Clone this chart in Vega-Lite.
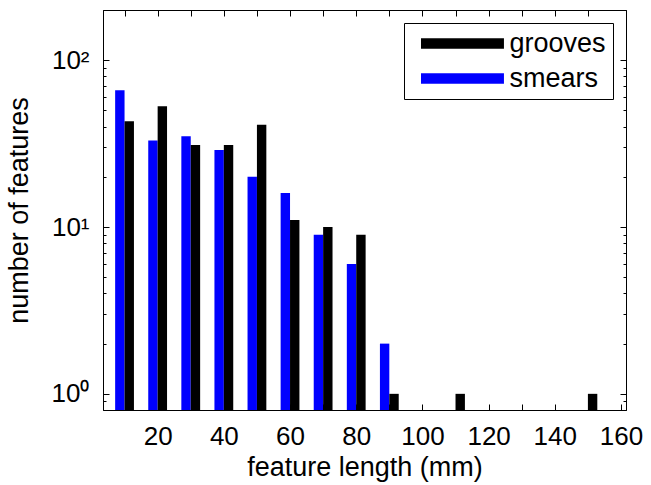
{
  "$schema": "https://vega.github.io/schema/vega-lite/v6.json",
  "width": 523,
  "height": 400,
  "autosize": {"type": "none"},
  "padding": {"left": 103, "top": 10, "right": 25, "bottom": 75},
  "background": "white",
  "config": {
    "view": {"stroke": "#000", "strokeWidth": 1},
    "font": "Liberation Sans",
    "axis": {
      "domainColor": "#000",
      "tickColor": "#000",
      "labelColor": "#000",
      "titleColor": "#000",
      "labelFont": "Liberation Sans",
      "titleFont": "Liberation Sans",
      "titleFontWeight": "normal",
      "grid": false
    }
  },
  "data": {
    "values": [
      {"length": 10, "series": "smears", "count": 66},
      {"length": 20, "series": "smears", "count": 33},
      {"length": 30, "series": "smears", "count": 35},
      {"length": 40, "series": "smears", "count": 29},
      {"length": 50, "series": "smears", "count": 20},
      {"length": 60, "series": "smears", "count": 16},
      {"length": 70, "series": "smears", "count": 9},
      {"length": 80, "series": "smears", "count": 6},
      {"length": 90, "series": "smears", "count": 2},
      {"length": 10, "series": "grooves", "count": 43},
      {"length": 20, "series": "grooves", "count": 53},
      {"length": 30, "series": "grooves", "count": 31},
      {"length": 40, "series": "grooves", "count": 31},
      {"length": 50, "series": "grooves", "count": 41},
      {"length": 60, "series": "grooves", "count": 11},
      {"length": 70, "series": "grooves", "count": 10},
      {"length": 80, "series": "grooves", "count": 9},
      {"length": 90, "series": "grooves", "count": 1},
      {"length": 110, "series": "grooves", "count": 1},
      {"length": 150, "series": "grooves", "count": 1}
    ]
  },
  "layer": [
    {
      "transform": [{"filter": "datum.series === 'smears'"}],
      "mark": {"type": "bar", "width": 9.4, "xOffset": -4.7, "clip": true},
      "encoding": {
        "x": {
          "field": "length", "type": "quantitative",
          "scale": {"domain": [5, 160], "nice": false, "zero": false},
          "axis": {
            "orient": "bottom",
            "title": "feature length (mm)",
            "values": [10, 20, 30, 40, 50, 60, 70, 80, 90, 100, 110, 120, 130, 140, 150, 160],
            "labelExpr": "datum.value % 20 === 0 ? datum.label : ''",
            "tickSize": -6,
            "labelPadding": 19,
            "labelFontSize": 26,
            "titleFontSize": 27,
            "titlePadding": 5,
            "labelFlush": false,
            "labelOverlap": false
          }
        },
        "y": {
          "field": "count", "type": "quantitative",
          "scale": {"type": "log", "domain": [0.8, 200], "nice": false},
          "axis": {
            "orient": "left",
            "title": "number of features",
            "values": [0.9, 1, 2, 3, 4, 5, 6, 7, 8, 9, 10, 20, 30, 40, 50, 60, 70, 80, 90, 100],
            "labelExpr": "datum.value === 1 ? '10⁰' : datum.value === 10 ? '10¹' : datum.value === 100 ? '10²' : ''",
            "tickSize": {"condition": {"test": "datum.value === 1 || datum.value === 10 || datum.value === 100", "value": -6}, "value": -3},
            "labelPadding": 20,
            "labelFontSize": 26,
            "titleFontSize": 27,
            "titlePadding": 18,
            "labelOverlap": false,
            "labelFlush": false
          }
        },
        "y2": {"datum": 0.8},
        "color": {
          "field": "series", "type": "nominal",
          "scale": {"domain": ["grooves", "smears"], "range": ["#000000", "#0000ff"]},
          "legend": {
            "title": null,
            "orient": "top-right",
            "offset": 13,
            "strokeColor": "#000",
            "fillColor": "#fff",
            "padding": 7,
            "symbolType": "M0,-0.5H8V0.5H0Z",
            "symbolSize": 430,
            "symbolStrokeWidth": 0,
            "symbolOffset": -3.5,
            "labelOffset": 75,
            "labelFontSize": 27,
            "labelFont": "Liberation Sans",
            "labelColor": "#000",
            "rowPadding": 7
          }
        }
      }
    },
    {
      "transform": [{"filter": "datum.series === 'grooves'"}],
      "mark": {"type": "bar", "width": 9.4, "xOffset": 4.7, "clip": true},
      "encoding": {
        "x": {
          "field": "length", "type": "quantitative",
          "axis": {
            "orient": "top",
            "title": null,
            "values": [10, 20, 30, 40, 50, 60, 70, 80, 90, 100, 110, 120, 130, 140, 150],
            "labels": false,
            "tickSize": -6
          }
        },
        "y": {
          "field": "count", "type": "quantitative",
          "axis": {
            "orient": "right",
            "title": null,
            "values": [0.9, 1, 2, 3, 4, 5, 6, 7, 8, 9, 10, 20, 30, 40, 50, 60, 70, 80, 90, 100],
            "labels": false,
            "tickSize": {"condition": {"test": "datum.value === 1 || datum.value === 10 || datum.value === 100", "value": -6}, "value": -3}
          }
        },
        "y2": {"datum": 0.8},
        "color": {"field": "series", "type": "nominal"}
      }
    }
  ],
  "resolve": {"axis": {"x": "independent", "y": "independent"}}
}
